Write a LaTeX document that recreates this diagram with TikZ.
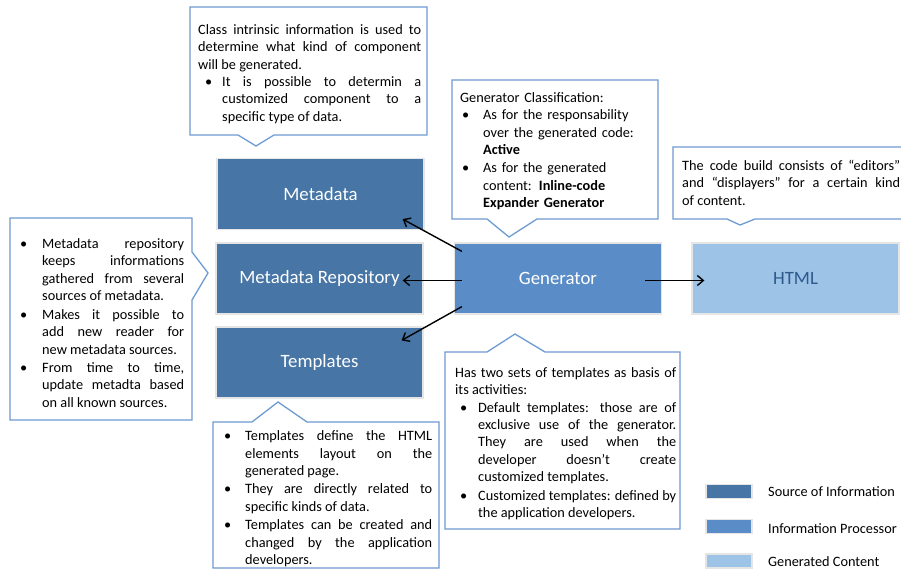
\documentclass[tikz,border=0pt]{standalone}
\usepackage{fontspec}
\setmainfont{Carlito}
\usetikzlibrary{arrows.meta,calc}
\definecolor{srcblue}{RGB}{70,117,166}
\definecolor{procblue}{RGB}{90,141,199}
\definecolor{genblue}{RGB}{157,195,230}
\definecolor{callline}{RGB}{110,155,210}
\definecolor{htmltext}{RGB}{45,90,140}
% bullet item: #1 bullet offset, #2 text indent, #3 text
\newcommand{\bitem}[3]{\par\noindent\makebox[#2][l]{\hspace{#1}\textbullet}\parbox[t]{\dimexpr\linewidth-#2\relax}{\strut #3\strut}\par}
\newcommand{\bitemL}[3]{\par\noindent\makebox[#2][l]{\hspace{#1}\textbullet}\parbox[t]{\dimexpr\linewidth-#2\relax}{\raggedright\strut #3\strut}\par}
\tikzset{
  blk/.style={minimum width=207pt, minimum height=71pt, inner sep=0pt, draw=black!10, line width=1.2pt, font=\fontsize{18.8}{22}\selectfont},
  srcbox/.style={blk, fill=srcblue, text=white},
  procbox/.style={blk, fill=procblue, text=white},
  genbox/.style={blk, fill=genblue, text=htmltext},
  callout/.style={draw=callline, fill=white, line width=1.3pt, line join=miter},
  callt/.style={anchor=north west, inner sep=0pt, text width=#1, align=justify, font=\fontsize{14.3}{17.4}\selectfont},
  calll/.style={anchor=north west, inner sep=0pt, text width=#1, align=left, font=\fontsize{14.3}{17.4}\selectfont},
  arr/.style={-{Straight Barb[length=6pt,width=10pt]}, line width=1.4pt},
  legbox/.style={minimum width=46pt, minimum height=14pt, inner sep=0pt, draw=black!10, line width=1.2pt},
  legtext/.style={anchor=west, inner sep=0pt, font=\fontsize{14.3}{16}\selectfont}
}
\begin{document}
\begin{tikzpicture}[x=1pt,y=-1pt]
\useasboundingbox (0,0) rectangle (901,569);
\clip (0,0) rectangle (901,569);
\fill[white] (0,0) rectangle (901,569);

% main blocks
\node[srcbox] (meta) at (320.5,194) {Metadata};
\node[srcbox] (repo) at (319.5,278.5) {Metadata Repository};
\node[srcbox] (tmpl) at (319.5,362.5) {Templates};
\node[procbox] (gen) at (558,278.5) {Generator};
\node[genbox] (html) at (795.5,278.5) {HTML};

% arrows
\draw[arr] ([xshift=8pt,yshift=-9pt]gen.north west) -- ([xshift=-22pt,yshift=11pt]meta.south east);
\draw[arr] ([xshift=8pt,yshift=-2pt]gen.west) -- ([xshift=-21pt,yshift=-2pt]repo.east);
\draw[arr] ([xshift=8pt,yshift=8pt]gen.south west) -- ([xshift=-22pt,yshift=-14pt]tmpl.north east);
\draw[arr] ([xshift=-17pt,yshift=-2pt]gen.east) -- ([xshift=13pt,yshift=-2pt]html.west);

% callout: metadata
\draw[callout] (190,7) -- (427,7) -- (427,135) -- (274,135) -- (256,146) -- (238,135) -- (190,135) -- cycle;
\node[callt=223pt] (cmeta) at (198,22) {\strut Class intrinsic information is used to \linebreak determine what kind of component \linebreak will be generated.
\bitem{7pt}{24pt}{It is possible to determin a \linebreak customized component to a \linebreak specific type of data.}};

% callout: generator classification
\draw[callout] (452,80) -- (658,80) -- (658,219) -- (537,219) -- (509,237) -- (487,219) -- (452,219) -- cycle;
\node[calll=195pt] (cgen) at (460,90) {\strut Generator Classification:
\bitemL{2pt}{23pt}{As for the responsability\\ over the generated code:\\ \textbf{Active}}
\bitemL{2pt}{23pt}{As for the generated\\ content: \textbf{Inline-code}\\ \textbf{Expander Generator}}};

% callout: html
\draw[callout] (673,147) -- (906,147) -- (906,219) -- (755,219) -- (740,225) -- (727,219) -- (673,219) -- cycle;
\node[callt=218pt] (chtml) at (682,158) {\strut The code build consists of “editors” \linebreak and “displayers” for a certain kind \linebreak of content.};

% callout: metadata repository
\draw[callout] (10,218) -- (192,218) -- (192,252) -- (208,273) -- (192,300) -- (192,420) -- (10,420) -- cycle;
\node[callt=167pt] (crepo) at (17,231) {\bitem{3pt}{25pt}{Metadata repository \linebreak keeps informations \linebreak gathered from several \linebreak sources of metadata.}
\bitem{3pt}{25pt}{Makes it possible to \linebreak add new reader for \linebreak new metadata sources.}
\bitem{3pt}{25pt}{From time to time, \linebreak update metadta based \linebreak on all known sources.}};

% callout: templates of generator
\draw[callout] (445,352) -- (487,352) -- (515,334) -- (545,352) -- (680,352) -- (680,529) -- (445,529) -- cycle;
\node[callt=221pt] (cdef) at (455,365) {\strut Has two sets of templates as basis of \linebreak its activities:
\bitem{5pt}{23pt}{Default templates: those are of \linebreak exclusive use of the generator. \linebreak They are used when the \linebreak developer doesn’t create \linebreak customized templates.}
\bitem{5pt}{23pt}{Customized templates: defined by \linebreak the application developers.}};

% callout: templates
\draw[callout] (213,422) -- (252,422) -- (278,402) -- (307,422) -- (439,422) -- (439,568) -- (213,568) -- cycle;
\node[callt=212pt] (ctmpl) at (220,423) {\bitem{4pt}{25pt}{Templates define the HTML \linebreak elements layout on the \linebreak generated page.}
\bitem{4pt}{25pt}{They are directly related to \linebreak specific kinds of data.}
\bitem{4pt}{25pt}{Templates can be created and \linebreak changed by the application \linebreak developers.}};

% legend
\node[legbox, fill=srcblue] (lsrc) at (729,491.5) {};
\node[legbox, fill=procblue] (lproc) at (729,526.5) {};
\node[legbox, fill=genblue] (lgen) at (729,561) {};
\node[legtext] (tsrc) at (768,492) {Source of Information};
\node[legtext] (tproc) at (768,529) {Information Processor};
\node[legtext] (tgen) at (768,562) {Generated Content};
\end{tikzpicture}
\end{document}
